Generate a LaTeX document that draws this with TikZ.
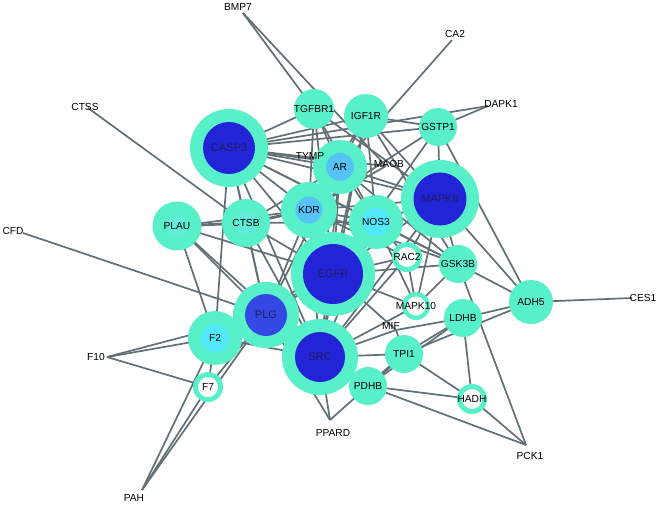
\documentclass[tikz,border=0pt]{standalone}
\usepackage{fontspec}
\setmainfont{Liberation Sans}
\definecolor{teal}{RGB}{88,240,200}
\definecolor{dblue}{RGB}{35,35,215}
\definecolor{pblue}{RGB}{52,72,228}
\definecolor{lblue}{RGB}{85,195,245}
\definecolor{cyanin}{RGB}{80,232,250}
\definecolor{faint}{RGB}{98,236,218}
\definecolor{edgec}{RGB}{98,112,118}
\definecolor{navy}{RGB}{30,30,95}
\begin{document}
\begin{tikzpicture}[x=1pt,y=-1pt,
  edge/.style={draw=edgec,line width=1.7pt},
  thick edge/.style={draw=edgec,line width=2.8pt},
  outer/.style={circle,fill=teal,inner sep=0pt,minimum size=#1},
  inner/.style={circle,inner sep=0pt,minimum size=#1},
  lab/.style={inner sep=0pt,font=\fontsize{10.2}{12}\selectfont,text=black},
  dlab/.style={inner sep=0pt,font=\fontsize{11}{13}\selectfont,text=navy}]
\useasboundingbox[fill=white] (0,0) rectangle (658,505);
% node centres
\coordinate (CASP3) at (229,148);
\coordinate (TGFBR1) at (314,109);
\coordinate (IGF1R) at (366,116);
\coordinate (GSTP1) at (438,127);
\coordinate (AR) at (340,167);
\coordinate (KDR) at (309,210);
\coordinate (NOS3) at (376,222);
\coordinate (MAPK8) at (440,199);
\coordinate (PLAU) at (177,226);
\coordinate (CTSB) at (246,223);
\coordinate (EGFR) at (333,274);
\coordinate (RAC2) at (407,257);
\coordinate (GSK3B) at (458,264);
\coordinate (PLG) at (266,315);
\coordinate (F2) at (215,338);
\coordinate (SRC) at (320,357);
\coordinate (MAPK10) at (416,306);
\coordinate (ADH5) at (531,302);
\coordinate (LDHB) at (463,318);
\coordinate (TPI1) at (404,354);
\coordinate (PDHB) at (368,386);
\coordinate (HADH) at (472,399);
\coordinate (F7) at (208,387);
% label-only nodes
\coordinate (BMP7) at (243,13);
\coordinate (CA2) at (452,40);
\coordinate (DAPK1) at (488,106);
\coordinate (CTSS) at (88,108);
\coordinate (CFD) at (23,233);
\coordinate (CES1) at (632,298);
\coordinate (F10) at (107,357);
\coordinate (PAH) at (142,490);
\coordinate (PPARD) at (330,420);
\coordinate (PCK1) at (526,445);
\coordinate (TYMP) at (318,160);
\coordinate (MAOB) at (386,166);
\coordinate (MIF) at (396,330);
% edges
\foreach \a/\b in {BMP7/TGFBR1,BMP7/MAOB,CA2/AR,DAPK1/GSTP1,DAPK1/CASP3,CTSS/CTSB,CFD/PLG,
  F10/F2,F10/PLG,F10/F7,PAH/F2,PAH/F7,PAH/PLG,PPARD/PLG,PPARD/SRC,PPARD/PDHB,
  PCK1/HADH,PCK1/PDHB,PCK1/GSK3B,CES1/ADH5,
  ADH5/MAPK8,ADH5/GSTP1,ADH5/GSK3B,ADH5/LDHB,ADH5/TPI1,
  LDHB/MIF,LDHB/TPI1,LDHB/PDHB,LDHB/HADH,
  TPI1/HADH,TPI1/MIF,PDHB/HADH,PDHB/SRC,
  GSK3B/MAPK8,GSK3B/MAPK10,GSK3B/NOS3,GSK3B/CASP3,GSK3B/AR,GSK3B/EGFR,GSK3B/IGF1R,GSK3B/KDR,
  RAC2/MAPK10,RAC2/EGFR,RAC2/NOS3,RAC2/MAPK8,RAC2/SRC,RAC2/KDR,
  MAPK10/SRC,MAPK10/EGFR,MAPK10/NOS3,MAPK10/MAPK8,
  MIF/SRC,MIF/EGFR,
  MAPK8/GSTP1,MAPK8/NOS3,MAPK8/EGFR,MAPK8/CASP3,MAPK8/AR,MAPK8/KDR,MAPK8/IGF1R,MAPK8/TGFBR1,MAPK8/SRC,
  GSTP1/IGF1R,GSTP1/CASP3,GSTP1/EGFR,GSTP1/KDR,
  IGF1R/AR,IGF1R/CASP3,IGF1R/NOS3,IGF1R/EGFR,IGF1R/KDR,IGF1R/SRC,
  TGFBR1/KDR,TGFBR1/AR,TGFBR1/EGFR,TGFBR1/NOS3,TGFBR1/CASP3,
  AR/CASP3,AR/KDR,AR/NOS3,AR/EGFR,AR/TYMP,AR/CTSB,AR/PLG,AR/SRC,
  TYMP/CASP3,MAOB/CASP3,MAOB/KDR,
  CASP3/CTSB,CASP3/KDR,CASP3/EGFR,CASP3/NOS3,CASP3/SRC,CASP3/PLG,CASP3/F2,
  KDR/EGFR,KDR/NOS3,KDR/PLG,KDR/SRC,KDR/PLAU,
  NOS3/EGFR,NOS3/SRC,NOS3/CTSB,NOS3/PLG,
  PLAU/F2,PLAU/PLG,PLAU/SRC,PLAU/EGFR,
  CTSB/EGFR,CTSB/PLG,CTSB/SRC,
  EGFR/SRC,EGFR/PLG,EGFR/F2,
  PLG/SRC,PLG/F2,PLG/F7,F2/F7,F2/SRC,SRC/TPI1}
  \draw[edge] (\a) -- (\b);
\foreach \a/\b in {PLAU/CTSB,KDR/CTSB,TPI1/PDHB}
  \draw[thick edge] (\a) -- (\b);
% nodes
\node[outer=78pt] (oCASP3) at (CASP3) {};
\node[inner=52pt,fill=dblue] (iCASP3) at (CASP3) {};
\node[dlab] (tCASP3) at (CASP3) {CASP3};
\node[outer=78pt] (oMAPK8) at (MAPK8) {};
\node[inner=53pt,fill=dblue] (iMAPK8) at (MAPK8) {};
\node[dlab] (tMAPK8) at (MAPK8) {MAPK8};
\node[outer=84pt] (oEGFR) at (EGFR) {};
\node[inner=60pt,fill=dblue] (iEGFR) at (EGFR) {};
\node[dlab] (tEGFR) at (EGFR) {EGFR};
\node[outer=76pt] (oSRC) at (SRC) {};
\node[inner=50pt,fill=dblue] (iSRC) at (SRC) {};
\node[dlab] (tSRC) at (SRC) {SRC};
\node[outer=66pt] (oPLG) at (PLG) {};
\node[inner=42pt,fill=pblue] (iPLG) at (PLG) {};
\node[dlab] (tPLG) at (PLG) {PLG};
\node[outer=54pt] (oAR) at (AR) {};
\node[inner=28pt,fill=lblue] (iAR) at (AR) {};
\node[lab] (tAR) at (AR) {AR};
\node[outer=56pt] (oKDR) at (KDR) {};
\node[inner=27pt,fill=lblue] (iKDR) at (KDR) {};
\node[lab] (tKDR) at (KDR) {KDR};
\node[outer=54pt] (oNOS3) at (NOS3) {};
\node[inner=28pt,fill=cyanin] (iNOS3) at (NOS3) {};
\node[lab] (tNOS3) at (NOS3) {NOS3};
\node[outer=54pt] (oF2) at (F2) {};
\node[inner=28pt,fill=cyanin] (iF2) at (F2) {};
\node[lab] (tF2) at (F2) {F2};
\node[outer=49pt] (oPLAU) at (PLAU) {};
\node[inner=20pt,fill=faint] (iPLAU) at (PLAU) {};
\node[lab] (tPLAU) at (PLAU) {PLAU};
\node[outer=48pt] (oCTSB) at (CTSB) {};
\node[inner=22pt,fill=faint] (iCTSB) at (CTSB) {};
\node[lab] (tCTSB) at (CTSB) {CTSB};
\node[outer=40pt] (oTGFBR1) at (TGFBR1) {};
\node[lab] (tTGFBR1) at (TGFBR1) {TGFBR1};
\node[outer=44pt] (oIGF1R) at (IGF1R) {};
\node[lab] (tIGF1R) at (IGF1R) {IGF1R};
\node[outer=38pt] (oGSTP1) at (GSTP1) {};
\node[lab] (tGSTP1) at (GSTP1) {GSTP1};
\node[outer=38pt] (oGSK3B) at (GSK3B) {};
\node[lab] (tGSK3B) at (GSK3B) {GSK3B};
\node[outer=44pt] (oADH5) at (ADH5) {};
\node[lab] (tADH5) at (ADH5) {ADH5};
\node[outer=38pt] (oLDHB) at (LDHB) {};
\node[lab] (tLDHB) at (LDHB) {LDHB};
\node[outer=38pt] (oTPI1) at (TPI1) {};
\node[lab] (tTPI1) at (TPI1) {TPI1};
\node[outer=38pt] (oPDHB) at (PDHB) {};
\node[lab] (tPDHB) at (PDHB) {PDHB};
\node[outer=30pt] (oRAC2) at (RAC2) {};
\node[inner=20pt,fill=white] (iRAC2) at (RAC2) {};
\node[lab] (tRAC2) at (RAC2) {RAC2};
\node[outer=28pt] (oMAPK10) at (MAPK10) {};
\node[inner=19pt,fill=white] (iMAPK10) at (MAPK10) {};
\node[lab] (tMAPK10) at (MAPK10) {MAPK10};
\node[outer=30pt] (oHADH) at (HADH) {};
\node[inner=20pt,fill=white] (iHADH) at (HADH) {};
\node[lab] (tHADH) at (HADH) {HADH};
\node[outer=30pt] (oF7) at (F7) {};
\node[inner=20pt,fill=white] (iF7) at (F7) {};
\node[lab] (tF7) at (F7) {F7};
% label-only nodes
\node[lab] (lBMP7) at (238,7) {BMP7};
\node[lab] (lCA2) at (455,34) {CA2};
\node[lab] (lDAPK1) at (501,104) {DAPK1};
\node[lab] (lCTSS) at (85,107) {CTSS};
\node[lab] (lCFD) at (13,231) {CFD};
\node[lab] (lCES1) at (643,298) {CES1};
\node[lab] (lF10) at (96,357) {F10};
\node[lab] (lPAH) at (134,498) {PAH};
\node[lab] (lPPARD) at (333,433) {PPARD};
\node[lab] (lPCK1) at (530,456) {PCK1};
\node[lab] (lTYMP) at (310,156) {TYMP};
\node[lab] (lMAOB) at (389,164) {MAOB};
\node[lab] (lMIF) at (391,326) {MIF};
\end{tikzpicture}
\end{document}
